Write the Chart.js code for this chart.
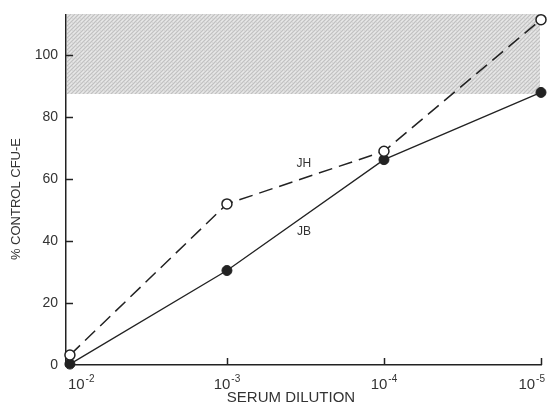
<!DOCTYPE html>
<html><head><meta charset="utf-8">
<script src="https://cdn.jsdelivr.net/npm/chart.js@4.4.0/dist/chart.umd.min.js"></script>
<style>html,body{margin:0;padding:0;background:#fff}#wrap{width:551px;height:409px}</style>
</head><body><div id="wrap"><canvas id="c" width="551" height="409"></canvas></div>
<script>
// ---- data ----
const categoryExponents = ['-2', '-3', '-4', '-5'];   // serum dilution 10^x
const xPositions = [0, 1, 2, 3];
const jhValues = [3.2, 52, 69, 111.5];
const jbValues = [0.3, 30.5, 66.3, 88];
const yTicks = [0, 20, 40, 60, 80, 100];
const shadeRange = [87.5, 113];
const seriesLabels = [
  { text: 'JH', x: 1.49, y: 64.9 },
  { text: 'JB', x: 1.49, y: 43.0 }
];

const INK = '#222';
const TEXT = '#333';
const FONT = '"Liberation Sans", Arial, Helvetica, sans-serif';

function makePattern() {
  const p = document.createElement('canvas');
  p.width = 4; p.height = 4;
  const g = p.getContext('2d');
  g.fillStyle = '#d9d9d9'; g.fillRect(0, 0, 4, 4);
  g.fillStyle = '#c2c2c2';
  g.fillRect(0, 0, 1, 1); g.fillRect(2, 2, 1, 1); g.fillRect(3, 1, 1, 1); g.fillRect(1, 3, 1, 1);
  g.fillStyle = '#e8e8e8';
  g.fillRect(1, 1, 1, 1); g.fillRect(3, 3, 1, 1); g.fillRect(2, 0, 1, 1);
  return document.getElementById('c').getContext('2d').createPattern(p, 'repeat');
}

const shadePlugin = {
  id: 'shade',
  beforeDatasetsDraw(chart) {
    const { ctx, scales: { x, y } } = chart;
    const x0 = x.left + 1, x1 = x.getPixelForValue(xPositions[xPositions.length - 1]) - 1;
    const yTop = y.getPixelForValue(shadeRange[1]) - 1, yBot = y.getPixelForValue(shadeRange[0]);
    ctx.save();
    ctx.fillStyle = makePattern();
    ctx.fillRect(x0, yTop, x1 - x0, yBot - yTop);
    ctx.restore();
  }
};

const axisDecor = {
  id: 'axisDecor',
  afterDraw(chart) {
    const { ctx, scales: { x, y } } = chart;
    ctx.save();
    ctx.strokeStyle = INK; ctx.lineWidth = 1.5;
    // inward y ticks
    yTicks.forEach(v => {
      if (v === 0) return;
      const py = Math.round(y.getPixelForValue(v)) + 0.5;
      ctx.beginPath(); ctx.moveTo(x.left, py); ctx.lineTo(x.left + 7, py); ctx.stroke();
    });
    // inward x ticks
    xPositions.forEach((v, i) => {
      if (i === 0) return;
      const px = Math.round(x.getPixelForValue(v)) + 0.5;
      ctx.beginPath(); ctx.moveTo(px, y.bottom); ctx.lineTo(px, y.bottom - 7); ctx.stroke();
    });
    // x tick labels 10^n
    ctx.fillStyle = TEXT;
    ctx.textBaseline = 'alphabetic';
    xPositions.forEach((v, i) => {
      const px = x.getPixelForValue(v);
      ctx.font = '15px ' + FONT;
      const wBase = ctx.measureText('10').width;
      ctx.font = '10px ' + FONT;
      const wExp = ctx.measureText(categoryExponents[i]).width;
      const w = wBase + 1 + wExp;
      let left;
      if (i === 0) left = px - 2;
      else if (i === xPositions.length - 1) left = px + 4 - w;
      else left = px - w / 2;
      ctx.font = '15px ' + FONT;
      ctx.textAlign = 'left';
      ctx.fillText('10', left, 389);
      ctx.font = '10px ' + FONT;
      ctx.fillText(categoryExponents[i], left + wBase + 1, 382);
    });
    // series labels
    ctx.font = '12px ' + FONT;
    ctx.textAlign = 'center'; ctx.textBaseline = 'middle';
    seriesLabels.forEach(l => {
      ctx.fillText(l.text, x.getPixelForValue(l.x), y.getPixelForValue(l.y));
    });
    ctx.restore();
  }
};

new Chart(document.getElementById('c'), {
  type: 'line',
  data: {
    datasets: [
      {
        label: 'JH',
        data: xPositions.map((x, i) => ({ x, y: jhValues[i] })),
        borderColor: INK, borderWidth: 1.5, borderDash: [14, 7],
        pointRadius: 5, pointBackgroundColor: '#fff', pointBorderColor: INK, pointBorderWidth: 1.5,
        fill: false, tension: 0, clip: false
      },
      {
        label: 'JB',
        data: xPositions.map((x, i) => ({ x, y: jbValues[i] })),
        borderColor: INK, borderWidth: 1.3,
        pointRadius: 5, pointBackgroundColor: INK, pointBorderColor: INK, pointBorderWidth: 1,
        fill: false, tension: 0, clip: false
      }
    ]
  },
  options: {
    responsive: false, animation: false, devicePixelRatio: 1,
    layout: { padding: { top: 15, right: 10, left: 0, bottom: 0 } },
    plugins: { legend: { display: false }, tooltip: { enabled: false } },
    scales: {
      x: {
        type: 'linear', min: -0.025, max: 3,
        grid: { display: false, drawTicks: false },
        border: { display: true, color: INK, width: 1.5 },
        ticks: { display: false },
        title: { display: true, text: 'SERUM DILUTION      ', color: TEXT, font: { family: FONT, size: 15 }, padding: { top: 0, bottom: 2 } },
        afterFit(s) { s.height = 44; s.paddingLeft = 0; s.paddingRight = 0; }
      },
      y: {
        type: 'linear', min: 0, max: shadeRange[1],
        grid: { display: false, drawTicks: false },
        border: { display: true, color: INK, width: 1.5 },
        afterBuildTicks(s) { s.ticks = yTicks.map(v => ({ value: v })); },
        ticks: { color: TEXT, padding: 8, font: { family: FONT, size: 14 } },
        title: { display: true, text: '% CONTROL CFU-E     ', color: TEXT, font: { family: FONT, size: 13 }, padding: { top: 9, bottom: 0 } },
        afterFit(s) { s.width = 66; s.paddingTop = 0; s.paddingBottom = 0; }
      }
    }
  },
  plugins: [shadePlugin, axisDecor]
});
</script>
</body></html>
